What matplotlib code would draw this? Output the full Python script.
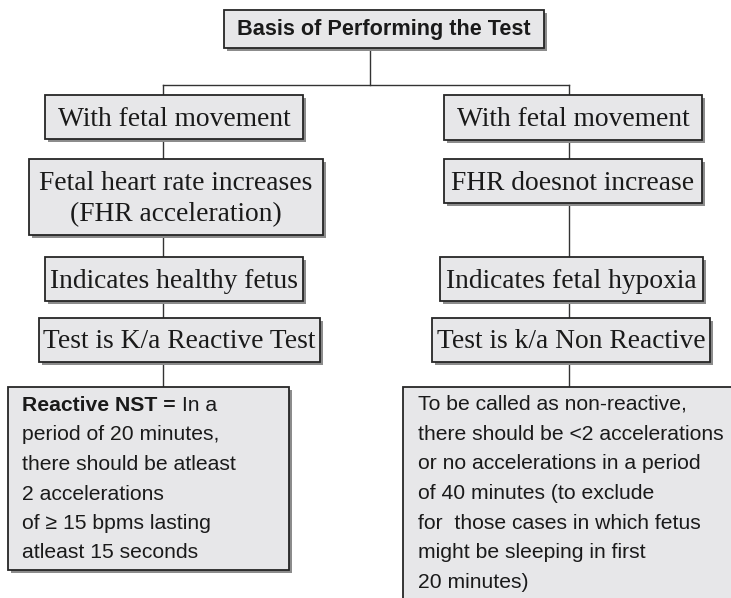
"""
Flowchart: basis of performing the non-stress test (reactive vs non reactive).
"""
import matplotlib.pyplot as plt
from matplotlib.patches import Rectangle

# box texts
title = "Basis of Performing the Test"
left_steps = ["With fetal movement",
              "Fetal heart rate increases\n(FHR acceleration)",
              "Indicates healthy fetus",
              "Test is K/a Reactive Test"]
right_steps = ["With fetal movement",
               "FHR doesnot increase",
               "Indicates fetal hypoxia",
               "Test is k/a Non Reactive"]
left_note_bold = "Reactive NST ="
left_note = [" In a",
             "period of 20 minutes,",
             "there should be atleast",
             "2 accelerations",
             "of \u2265 15 bpms lasting",
             "atleast 15 seconds"]
right_note = ["To be called as non-reactive,",
              "there should be <2 accelerations",
              "or no accelerations in a period",
              "of 40 minutes (to exclude",
              "for  those cases in which fetus",
              "might be sleeping in first",
              "20 minutes)"]

# layout in pixels (x0, y0, x1, y1), y downwards
title_box = (224, 10, 544, 48)
left_boxes = [(45, 95, 303, 139), (29, 159, 323, 235), (45, 257, 303, 301), (39, 318, 320, 362)]
right_boxes = [(444, 95, 702, 140), (444, 159, 702, 203), (440, 257, 703, 301), (432, 318, 710, 362)]
left_note_box = (8, 387, 289, 570)
right_note_box = (403, 387, 760, 640)
x_left, x_right, x_top = 163, 569, 370
y_bar = 85

fill = "#e7e7e9"
edge = "#262626"
shadow = "#8c8c8c"
serif = ["Liberation Serif", "DejaVu Serif"]
sans = ["Liberation Sans", "DejaVu Sans"]

fig = plt.figure(figsize=(7.31, 5.98), dpi=100)
ax = fig.add_axes([0, 0, 1, 1])
ax.set_xlim(0, 731)
ax.set_ylim(598, 0)
ax.axis("off")


def box(b, sh=True, z=2):
    x0, y0, x1, y1 = b
    if sh:
        ax.add_patch(Rectangle((x0 + 3, y0 + 3), x1 - x0, y1 - y0,
                               fc=shadow, ec="none", zorder=z))
    ax.add_patch(Rectangle((x0, y0), x1 - x0, y1 - y0, fc=fill, ec=edge,
                           lw=1.3, zorder=z + 0.5))


# connectors
line_kw = dict(color="#333333", lw=1.0, zorder=1)
ax.plot([x_top, x_top], [title_box[3], y_bar], **line_kw)
ax.plot([x_left, x_right], [y_bar, y_bar], **line_kw)
ax.plot([x_left, x_left], [y_bar, left_note_box[1]], **line_kw)
ax.plot([x_right, x_right], [y_bar, right_note_box[1]], **line_kw)

# title box
box(title_box)
ax.text((title_box[0] + title_box[2]) / 2, (title_box[1] + title_box[3]) / 2 + 1, title,
        ha="center", va="center", fontsize=15.6, fontweight="bold",
        family=sans, color="#1a1a1a", zorder=5)

# step boxes
for steps, boxes in [(left_steps, left_boxes), (right_steps, right_boxes)]:
    for s, b in zip(steps, boxes):
        box(b)
        ax.text((b[0] + b[2]) / 2, (b[1] + b[3]) / 2 + 2, s, ha="center", va="center",
                fontsize=19.8, family=serif, color="#1a1a1a",
                linespacing=1.32, multialignment="center", zorder=5)

# note boxes
box(left_note_box)
box(right_note_box, sh=False)

note_kw = dict(fontsize=15.2, family=sans, color="#1a1a1a", zorder=5)
spacing = 29.5
bt = ax.text(22, 411, left_note_bold, va="baseline", fontweight="bold", **note_kw)
ax.annotate(left_note[0], xy=(1, 0), xycoords=bt, va="bottom", ha="left", **note_kw)
for i, s in enumerate(left_note[1:], start=1):
    ax.text(22, 411 + i * spacing, s, va="baseline", **note_kw)

for i, s in enumerate(right_note):
    ax.text(418, 410 + i * 29.7, s, va="baseline", **note_kw)

fig.savefig("out.png", dpi=100)
